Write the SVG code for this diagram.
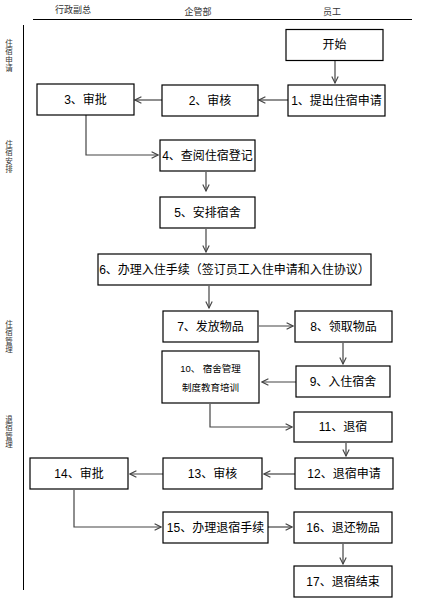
<svg xmlns="http://www.w3.org/2000/svg" width="431" height="607" viewBox="0 0 431 607">
<style>
.box{fill:#fff;stroke:#000;stroke-width:1.2}
.t{font-family:"Liberation Sans","Noto Sans CJK SC",sans-serif;font-size:12px;fill:#000;text-anchor:middle;dominant-baseline:central}
.s{font-family:"Liberation Sans","Noto Sans CJK SC",sans-serif;font-size:9.5px;fill:#000;text-anchor:middle;dominant-baseline:central}
.h{font-family:"Noto Sans CJK SC",sans-serif;font-size:9px;fill:#333;text-anchor:middle;dominant-baseline:central}
.lane{font-family:"Noto Sans CJK SC",sans-serif;font-size:7.5px;fill:#333;writing-mode:vertical-rl;text-orientation:upright;letter-spacing:1px;text-anchor:start}
.c{fill:none;stroke:#444;stroke-width:1.2;marker-end:url(#a)}
</style>
<defs>
<marker id="a" viewBox="0 0 10 10" refX="9" refY="5" markerWidth="8" markerHeight="8" markerUnits="userSpaceOnUse" orient="auto">
<path d="M1,1 L9,5 L1,9" fill="none" stroke="#444" stroke-width="1.4"/>
</marker>
</defs>
<rect width="431" height="607" fill="#fff"/>
<g id="header">
<text class="h" x="73" y="9">行政副总</text>
<text class="h" x="198" y="11">企管部</text>
<text class="h" x="332" y="11">员工</text>
<line x1="33" y1="19.5" x2="412" y2="19.5" stroke="#000" stroke-width="1"/>
<line x1="23.5" y1="25" x2="23.5" y2="590" stroke="#000" stroke-width="1"/>
</g>
<g id="lanes">
<text class="lane" x="9" y="39">住宿申请</text>
<text class="lane" x="9" y="140">住宿安排</text>
<text class="lane" x="9" y="320">住宿管理</text>
<text class="lane" x="9" y="415">退宿管理</text>
</g>
<g id="connectors">
<line class="c" x1="335" y1="61" x2="335" y2="83"/>
<line class="c" x1="288" y1="100" x2="259" y2="100"/>
<line class="c" x1="162" y1="100" x2="135" y2="100"/>
<polyline class="c" points="86,115 86,155 158,155"/>
<line class="c" x1="206" y1="172" x2="206" y2="191"/>
<line class="c" x1="206" y1="229" x2="206" y2="252"/>
<line class="c" x1="209" y1="286" x2="209" y2="308"/>
<line class="c" x1="259" y1="326" x2="293" y2="326"/>
<line class="c" x1="343" y1="343" x2="343" y2="364"/>
<line class="c" x1="296" y1="382" x2="262" y2="382"/>
<polyline class="c" points="210,404 210,427 292,427"/>
<line class="c" x1="346" y1="443" x2="346" y2="456"/>
<line class="c" x1="295" y1="474" x2="264" y2="474"/>
<line class="c" x1="163" y1="474" x2="130" y2="474"/>
<polyline class="c" points="74,490 74,527 161,527"/>
<line class="c" x1="268" y1="527" x2="292" y2="527"/>
<line class="c" x1="343" y1="544" x2="343" y2="564"/>
</g>
<g id="start"><rect class="box" x="286" y="29.5" width="97" height="31"/><text class="t" x="334.5" y="45">开始</text></g>
<g id="n1"><rect class="box" x="288" y="85" width="97" height="31"/><text class="t" x="336.5" y="100.5">1、提出住宿申请</text></g>
<g id="n2"><rect class="box" x="162" y="85" width="96" height="31"/><text class="t" x="210" y="100.5">2、审核</text></g>
<g id="n3"><rect class="box" x="37" y="84" width="97" height="31"/><text class="t" x="85.5" y="99.5">3、审批</text></g>
<g id="n4"><rect class="box" x="160" y="140" width="95" height="31"/><text class="t" x="207.5" y="155.5">4、查阅住宿登记</text></g>
<g id="n5"><rect class="box" x="160" y="197" width="95" height="31"/><text class="t" x="207.5" y="212.5">5、安排宿舍</text></g>
<g id="n6"><rect class="box" x="98" y="254" width="273" height="31"/><text class="t" x="234.5" y="269.5">6、办理入住手续（签订员工入住申请和入住协议）</text></g>
<g id="n7"><rect class="box" x="163" y="311" width="95" height="31"/><text class="t" x="210.5" y="326.5">7、发放物品</text></g>
<g id="n8"><rect class="box" x="295" y="311" width="97" height="31"/><text class="t" x="343.5" y="326.5">8、领取物品</text></g>
<g id="n9"><rect class="box" x="296" y="366" width="94" height="31"/><text class="t" x="343" y="381.5">9、入住宿舍</text></g>
<g id="n10"><rect class="box" x="162" y="351" width="97" height="52"/><text class="s" x="210.5" y="368">10、 宿舍管理</text><text class="s" x="210.5" y="387">制度教育培训</text></g>
<g id="n11"><rect class="box" x="294" y="412" width="98" height="30"/><text class="t" x="343" y="427">11、退宿</text></g>
<g id="n12"><rect class="box" x="295" y="458" width="98" height="31"/><text class="t" x="344" y="473.5">12、退宿申请</text></g>
<g id="n13"><rect class="box" x="163" y="458" width="99" height="31"/><text class="t" x="212.5" y="473.5">13、审核</text></g>
<g id="n14"><rect class="box" x="30" y="458" width="98" height="31"/><text class="t" x="79" y="473.5">14、审批</text></g>
<g id="n15"><rect class="box" x="163" y="512" width="105" height="31"/><text class="t" x="215.5" y="527.5">15、办理退宿手续</text></g>
<g id="n16"><rect class="box" x="294" y="512" width="98" height="31"/><text class="t" x="343" y="527.5">16、退还物品</text></g>
<g id="n17"><rect class="box" x="294" y="566" width="98" height="31"/><text class="t" x="343" y="581.5">17、退宿结束</text></g>
</svg>
